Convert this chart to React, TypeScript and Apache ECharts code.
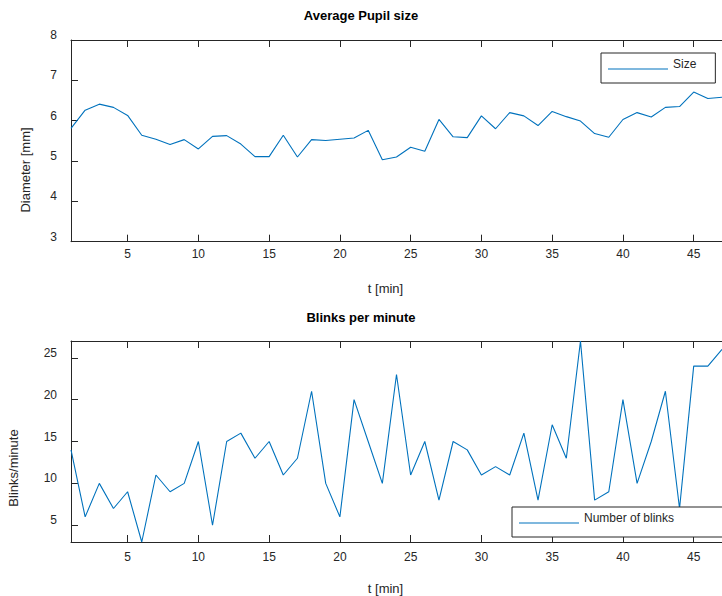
import React, { useEffect, useRef } from "react";
import * as echarts from "echarts";

const minutes = [1,2,3,4,5,6,7,8,9,10,11,12,13,14,15,16,17,18,19,20,21,22,23,24,25,26,27,28,29,30,31,32,33,34,35,36,37,38,39,40,41,42,43,44,45,46,47];
const pupilSize = [5.81,6.26,6.41,6.33,6.13,5.64,5.54,5.41,5.53,5.30,5.61,5.63,5.42,5.11,5.11,5.64,5.10,5.53,5.51,5.54,5.57,5.76,5.03,5.10,5.34,5.24,6.03,5.60,5.58,6.12,5.80,6.20,6.12,5.88,6.23,6.10,5.99,5.68,5.59,6.03,6.20,6.09,6.33,6.35,6.71,6.55,6.58];
const blinks = [14,6,10,7,9,3,11,9,10,15,5,15,16,13,15,11,13,21,10,6,20,15,10,23,11,15,8,15,14,11,12,11,16,8,17,13,27,8,9,20,10,15,21,7,24,24,26];
const xTicks = [5,10,15,20,25,30,35,40,45];
const pupilTicks = [3,4,5,6,7,8];
const blinkTicks = [5,10,15,20,25];

const FONT = '"Liberation Sans", Arial, Helvetica, sans-serif';
const AX = "#262626";
const LINE = "#0072BD";
const LEGEND_ICON = "path://M0,0 L60,0 L60,1 L0,1 Z";

function xAxes(gridIndex: number, labelMargin: number) {
  const base = {
    type: "value" as const,
    gridIndex,
    min: 1,
    max: 47,
    splitLine: { show: false },
    axisLine: { show: true, onZero: false, lineStyle: { color: AX, width: 1 } },
    axisTick: { show: true, inside: true, length: 7, customValues: xTicks, lineStyle: { color: AX, width: 1 } },
  };
  return [
    {
      ...base,
      position: "bottom",
      axisLabel: { show: true, customValues: xTicks, margin: labelMargin, fontSize: 12, color: AX, fontFamily: FONT },
      name: "t [min]",
      nameLocation: "middle",
      nameGap: 40,
      nameTextStyle: { fontSize: 13, color: AX, fontFamily: FONT, padding: [0, 22, 0, 0] },
    },
    { ...base, position: "top", axisLabel: { show: false } },
  ];
}

function yAxis(gridIndex: number, min: number, max: number, ticks: number[]) {
  return {
    type: "value" as const,
    gridIndex,
    min,
    max,
    position: "left",
    splitLine: { show: false },
    axisLine: { show: true, onZero: false, lineStyle: { color: AX, width: 1 } },
    axisTick: { show: true, inside: true, length: 7, customValues: ticks, lineStyle: { color: AX, width: 1 } },
    axisLabel: {
      show: true,
      customValues: ticks,
      margin: 14,
      fontSize: 12,
      color: AX,
      fontFamily: FONT,
      verticalAlign: "bottom",
      lineHeight: 10,
    },
  };
}

function legend(name: string, left: number, top: number, padRight: number) {
  return {
    data: [name],
    left,
    top,
    icon: LEGEND_ICON,
    itemWidth: 60,
    itemHeight: 14,
    padding: [5, padRight, 13, 7],
    borderColor: AX,
    borderWidth: 1,
    borderRadius: 0,
    backgroundColor: "#fff",
    formatter: "{a|{name}}",
    textStyle: {
      fontSize: 12,
      color: AX,
      fontFamily: FONT,
      rich: { a: { fontSize: 12, color: AX, fontFamily: FONT, padding: [0, 0, 10, 0] } },
    },
  };
}

export default function App() {
  const ref = useRef<HTMLDivElement>(null);
  useEffect(() => {
    if (!ref.current) return;
    const chart = echarts.init(ref.current, undefined, { renderer: "svg" });
    chart.setOption({
      animation: false,
      backgroundColor: "#ffffff",
      title: [
        { text: "Average Pupil size", left: "center", top: 4, textStyle: { fontSize: 13, fontWeight: "bold", color: "#000", fontFamily: FONT } },
        { text: "Blinks per minute", left: "center", top: 306, textStyle: { fontSize: 13, fontWeight: "bold", color: "#000", fontFamily: FONT } },
      ],
      grid: [
        { left: 71, top: 40, width: 657.8, height: 201.7 },
        { left: 71, top: 341, width: 657.8, height: 201.7 },
      ],
      xAxis: [...xAxes(0, 6), ...xAxes(1, 9)],
      yAxis: [yAxis(0, 3, 8, pupilTicks), yAxis(1, 3, 27, blinkTicks)],
      graphic: [
        {
          type: "text",
          x: 25,
          y: 170,
          rotation: Math.PI / 2,
          style: { text: "Diameter [mm]", fontSize: 13, fontFamily: FONT, fill: AX, align: "center", verticalAlign: "middle" },
        },
        {
          type: "text",
          x: 13,
          y: 468,
          rotation: Math.PI / 2,
          style: { text: "Blinks/minute", fontSize: 13, fontFamily: FONT, fill: AX, align: "center", verticalAlign: "middle" },
        },
      ],
      legend: [legend("Size", 601, 53, 19), legend("Number of blinks", 512, 507, 80)],
      series: [
        {
          name: "Size",
          type: "line",
          xAxisIndex: 0,
          yAxisIndex: 0,
          symbol: "none",
          lineStyle: { color: LINE, width: 1.1 },
          itemStyle: { color: LINE },
          data: minutes.map((t, i) => [t, pupilSize[i]]),
        },
        {
          name: "Number of blinks",
          type: "line",
          xAxisIndex: 2,
          yAxisIndex: 1,
          symbol: "none",
          lineStyle: { color: LINE, width: 1.1 },
          itemStyle: { color: LINE },
          data: minutes.map((t, i) => [t, blinks[i]]),
        },
      ],
    });
    return () => chart.dispose();
  }, []);
  return <div ref={ref} style={{ width: 722, height: 596, position: "absolute", left: 0, top: 0 }} />;
}
